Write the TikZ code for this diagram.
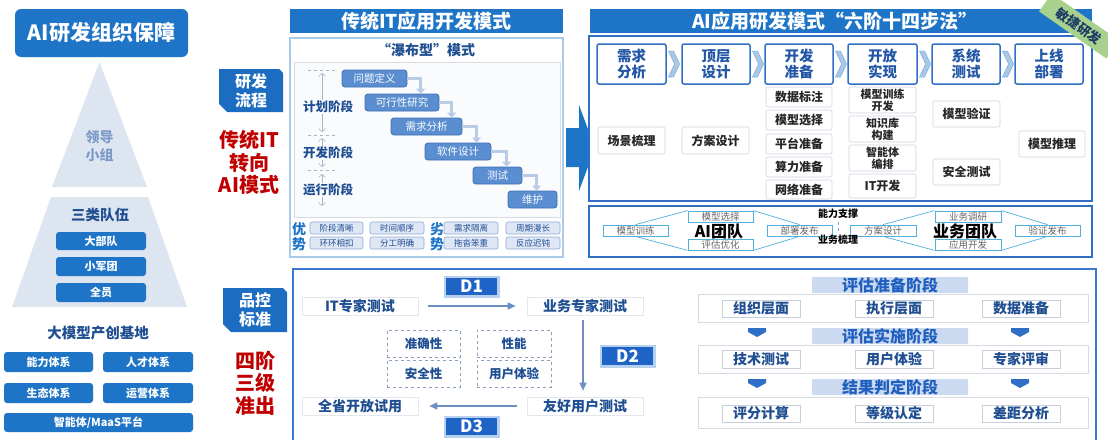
\documentclass[tikz,border=0pt]{standalone}
\usepackage{fontspec}
\setmainfont{Noto Sans CJK SC}
\usetikzlibrary{arrows.meta,calc}
\definecolor{mblue}{HTML}{1E74C6}
\definecolor{navy}{HTML}{1F4E91}
\definecolor{dred}{HTML}{C00000}
\definecolor{pale}{HTML}{DDE5F0}
\definecolor{pltext}{HTML}{7C9BC6}
\definecolor{tagblue}{HTML}{1C6CC2}
\definecolor{lblue}{HTML}{A9CBE8}
\definecolor{lgray}{HTML}{D6DBE2}
\definecolor{innerbg}{HTML}{FAFBFD}
\definecolor{wfblue}{HTML}{5A8ED0}
\definecolor{wfedge}{HTML}{3E6EB4}
\definecolor{wfarrow}{HTML}{B9CCE6}
\definecolor{stgray}{HTML}{A9B4C6}
\definecolor{smfill}{HTML}{DFE7F5}
\definecolor{smedge}{HTML}{8FA9D6}
\definecolor{pbord}{HTML}{2F6FC4}
\definecolor{phtext}{HTML}{2256A6}
\definecolor{subedge}{HTML}{CDD4DE}
\definecolor{chevfill}{HTML}{A8C8E8}
\definecolor{chevedge}{HTML}{7FA8D8}
\definecolor{teal}{HTML}{4FB0DE}
\definecolor{tagg}{HTML}{A8D18D}
\definecolor{tagtext}{HTML}{1C3A66}
\definecolor{bpbord}{HTML}{3A78D0}
\definecolor{qedge}{HTML}{E4E7EC}
\definecolor{dblue}{HTML}{1E63C6}
\definecolor{dglow}{HTML}{B8D0F0}
\definecolor{qarrow}{HTML}{6D8FC4}
\definecolor{dashc}{HTML}{8AA0BC}
\definecolor{hdrfill}{HTML}{CBDAF0}
\definecolor{hdrtext}{HTML}{1F5FBF}
\definecolor{itemedge}{HTML}{C9CFD8}
\definecolor{darrc}{HTML}{2F6FC8}
\newcommand\myfs[2]{\fontsize{#1}{#2}\selectfont}
\newcommand\mybox[7]{\node[#6,inner sep=0pt,minimum width={(#4-#2)*1pt},minimum height={(#5-#3)*1pt}] (#1) at ({(#2+#4)/2},{(#3+#5)/2}) {#7};}
\newcommand\mychev[1]{\filldraw[chev] (#1-5,51) -- (#1,51) -- (#1+6,64) -- (#1,77) -- (#1-5,77) -- (#1+1,64) -- cycle;}
\newcommand\mydarr[2]{\fill[darr] (#1-9,#2) -- (#1+9,#2) -- (#1+9,#2+4) -- (#1,#2+9) -- (#1-9,#2+4) -- cycle;}
\begin{document}
\begin{tikzpicture}[x=1pt,y=-1pt,
 titlebox/.style={fill=mblue,rounded corners=6pt,text=white,font=\bfseries\myfs{21}{24}},
 bluebox/.style={fill=mblue,rounded corners=3pt,text=white,font=\bfseries\myfs{11}{13}},
 hdrbar/.style={fill=mblue,text=white,font=\bfseries\myfs{19}{22}},
 wf/.style={fill=wfblue,draw=wfedge,line width=0.8pt,rounded corners=3pt,text=white,font=\myfs{10.5}{12}},
 wfarr/.style={draw=wfarrow,line width=3.5pt,-{Triangle[length=5pt,width=9pt]}},
 stg/.style={fill=innerbg,text=navy,font=\bfseries\myfs{12.5}{14},inner sep=1pt},
 stgarr/.style={draw=stgray,line width=0.6pt,{Straight Barb[length=3pt,width=7pt]}-{Straight Barb[length=3pt,width=7pt]}},
 dashline/.style={draw=stgray,dashed,line width=0.6pt},
 pro/.style={fill=smfill,draw=smedge,line width=0.6pt,rounded corners=2pt,text=navy,font=\myfs{8.5}{10}},
 phase/.style={draw=pbord,line width=1.5pt,fill=white,rounded corners=2pt,text=phtext,font=\bfseries\myfs{14.5}{16},align=center},
 sub/.style={draw=subedge,line width=0.6pt,fill=white,rounded corners=2pt,text=black!85,font=\bfseries\myfs{12}{14},align=center},
 subtwo/.style={sub,font=\bfseries\myfs{11}{12}},
 chev/.style={fill=chevfill,draw=chevedge,line width=0.5pt},
 team/.style={draw=teal,line width=0.8pt,fill=white,text=black!60,font=\myfs{9.5}{11}},
 lens/.style={draw=teal,line width=0.7pt},
 teamname/.style={text=black,font=\bfseries\myfs{16}{18}},
 smalllab/.style={text=black,font=\bfseries\myfs{10}{12}},
 qbox/.style={draw=qedge,line width=0.6pt,fill=white,text=navy,font=\bfseries\myfs{14}{16}},
 dtag/.style={fill=dblue,text=white,font=\bfseries\myfs{17}{19},preaction={draw=dglow,line width=5pt}},
 qarr/.style={draw=qarrow,line width=1.3pt,-{Triangle[length=8pt,width=7pt]}},
 dbox/.style={draw=dashc,dashed,line width=0.8pt,text=navy,font=\bfseries\myfs{12.5}{14}},
 band/.style={fill=hdrfill,rounded corners=1pt,text=hdrtext,font=\bfseries\myfs{16}{18}},
 rowbox/.style={draw=lgray,line width=0.6pt,fill=white},
 item/.style={draw=itemedge,line width=0.6pt,fill=white,text=navy,font=\bfseries\myfs{14}{16}},
 darr/.style={fill=darrc},
 redtxt/.style={text=dred,font=\bfseries\myfs{20}{22.5},align=center},
 tagtxt/.style={text=white,font=\bfseries\myfs{16}{19},align=center}
]
\useasboundingbox (0,0) rectangle (1108,439);
\fill[white] (0,0) rectangle (1108,439);

% ---------- left column ----------
\mybox{title}{15}{9}{188}{57}{titlebox}{AI研发组织保障}
\fill[pale] (99.5,62) -- (147,187) -- (52,187) -- cycle;
\node[font=\bfseries\myfs{14}{18},text=pltext,align=center] (ldr) at (99.5,146) {领导\\小组};
\fill[pale] (51,197) -- (148,197) -- (187,307) -- (12,307) -- cycle;
\node[font=\bfseries\myfs{14.5}{16},text=navy] (three) at (100,215) {三类队伍};
\mybox{dbd}{56}{232}{146}{250}{bluebox}{大部队}
\mybox{xjt}{56}{257}{146}{276}{bluebox}{小军团}
\mybox{qy}{56}{283}{146}{302}{bluebox}{全员}
\node[font=\bfseries\myfs{14.5}{16},text=navy] (base) at (98,333) {大模型产创基地};
\mybox{nl}{4}{352}{93}{372}{bluebox}{能力体系}
\mybox{rc}{103}{352}{193}{372}{bluebox}{人才体系}
\mybox{st}{4}{383}{93}{403}{bluebox}{生态体系}
\mybox{yy}{103}{383}{193}{403}{bluebox}{运营体系}
\mybox{maas}{4}{413}{193}{432}{bluebox}{智能体/MaaS平台}

% ---------- tags ----------
\fill[tagblue] (219,69) -- (279,69) -- (283,73) -- (283,112) -- (227,112) -- (219,104) -- cycle;
\node[tagtxt] (tag1) at (251,90.5) {研发\\流程};
\node[redtxt] (red1) at (249,162.5) {传统IT\\转向\\AI模式};
\fill[tagblue] (223,288) -- (283,288) -- (287,292) -- (287,332) -- (231,332) -- (223,324) -- cycle;
\node[tagtxt] (tag2) at (255,310) {品控\\标准};
\node[redtxt] (red2) at (255,383) {四阶\\三级\\准出};

% ---------- traditional panel ----------
\mybox{thdr}{290}{9}{563}{33}{hdrbar}{传统IT应用开发模式}
\draw[draw=lblue,line width=1.2pt,fill=white] (290,38) rectangle (563,257);
\node[text=navy,font=\bfseries\myfs{14}{16}] (wft) at (426,50) {“瀑布型”模式};
\draw[lgray,fill=innerbg] (294,62) rectangle (560,217);
\draw[dashline] (308,70) -- (335,70);
\draw[dashline] (308,135) -- (335,135);
\draw[dashline] (308,170) -- (335,170);
\draw[stgarr] (322,73) -- (322,132);
\draw[stgarr] (322,138) -- (322,167);
\draw[stgarr] (322,174) -- (322,206);
\node[stg] (s1) at (328,107) {计划阶段};
\node[stg] (s2) at (328,153) {开发阶段};
\node[stg] (s3) at (328,190) {运行阶段};
\mybox{w1}{342}{70}{407}{87}{wf}{问题定义}
\mybox{w2}{365}{94}{439}{111}{wf}{可行性研究}
\mybox{w3}{391}{118}{462}{135}{wf}{需求分析}
\mybox{w4}{425}{143}{491}{160}{wf}{软件设计}
\mybox{w5}{473}{167}{522}{184}{wf}{测试}
\mybox{w6}{508}{191}{557}{208}{wf}{维护}
\draw[wfarr] (w1.east) -| ([xshift=56pt]w2.north west);
\draw[wfarr] (w2.east) -| ([xshift=61pt]w3.north west);
\draw[wfarr] (w3.east) -| ([xshift=52pt]w4.north west);
\draw[wfarr] (w4.east) -| ([xshift=34pt]w5.north west);
\draw[wfarr] (w5.east) -| ([xshift=29pt]w6.north west);
\node[text=mblue,font=\bfseries\myfs{14}{16}] (you1) at (299,229) {优};
\node[text=mblue,font=\bfseries\myfs{14}{16}] (you2) at (299,244) {势};
\node[text=mblue,font=\bfseries\myfs{14}{16}] (lie1) at (437,229) {劣};
\node[text=mblue,font=\bfseries\myfs{14}{16}] (lie2) at (437,244) {势};
\mybox{a1}{310}{222}{363}{234}{pro}{阶段清晰}
\mybox{a2}{370}{222}{424}{234}{pro}{时间顺序}
\mybox{a3}{444}{222}{498}{234}{pro}{需求隔离}
\mybox{a4}{506}{222}{560}{234}{pro}{周期漫长}
\mybox{a5}{310}{237}{363}{249}{pro}{环环相扣}
\mybox{a6}{370}{237}{424}{249}{pro}{分工明确}
\mybox{a7}{444}{237}{498}{249}{pro}{拖沓笨重}
\mybox{a8}{506}{237}{560}{249}{pro}{反应迟钝}

% ---------- big arrow ----------
\fill[mblue] (566,128) -- (579,128) -- (579,105) -- (595,148) -- (579,191) -- (579,167) -- (566,167) -- cycle;

% ---------- AI panel ----------
\fill[mblue] (590,9) rectangle (1092,33);
\node[text=white,font=\bfseries\myfs{19}{22}] (ahdr) at (835,21) {AI应用研发模式“六阶十四步法”};
\draw[pbord,line width=1.3pt,fill=white] (589,36) rectangle (1092,201);
\mybox{p1}{597}{44}{666}{84}{phase}{需求\\分析}
\mybox{p2}{682}{44}{750}{84}{phase}{顶层\\设计}
\mybox{p3}{765}{44}{833}{84}{phase}{开发\\准备}
\mybox{p4}{848}{44}{917}{84}{phase}{开放\\实现}
\mybox{p5}{932}{44}{1000}{84}{phase}{系统\\测试}
\mybox{p6}{1015}{44}{1083}{84}{phase}{上线\\部署}
\mychev{673.5}
\mychev{757.5}
\mychev{840.5}
\mychev{924.5}
\mychev{1007.5}
\mybox{c1}{598}{127}{665}{154}{sub}{场景梳理}
\mybox{c2}{682}{127}{749}{154}{sub}{方案设计}
\mybox{c3}{766}{87}{832}{107}{sub}{数据标注}
\mybox{c4}{766}{110}{832}{130}{sub}{模型选择}
\mybox{c5}{766}{134}{832}{154}{sub}{平台准备}
\mybox{c6}{766}{157}{832}{177}{sub}{算力准备}
\mybox{c7}{766}{180}{832}{199}{sub}{网络准备}
\mybox{c8}{849}{87}{916}{113}{subtwo}{模型训练\\开发}
\mybox{c9}{849}{116}{916}{142}{subtwo}{知识库\\构建}
\mybox{c10}{849}{145}{916}{171}{subtwo}{智能体\\编排}
\mybox{c11}{849}{174}{916}{198}{sub}{IT开发}
\mybox{c12}{933}{101}{1000}{127}{sub}{模型验证}
\mybox{c13}{933}{159}{1000}{185}{sub}{安全测试}
\mybox{c14}{1019}{131}{1085}{157}{sub}{模型推理}

% ---------- team bar ----------
\draw[pbord,line width=1.3pt,fill=white] (589,206) rectangle (1092,257);
\mybox{t1}{603}{225}{668}{236}{team}{模型训练}
\mybox{t2}{688}{211}{753}{222}{team}{模型选择}
\mybox{t3}{688}{239}{753}{250}{team}{评估优化}
\mybox{t4}{767}{225}{832}{236}{team}{部署发布}
\draw[lens] (t1.north) -- (t2.north west);
\draw[lens] (t2.north east) -- (t4.north);
\draw[lens] (t1.south) -- (t3.south west);
\draw[lens] (t3.south east) -- (t4.south);
\node[teamname] (aiteam) at (719,231) {AI团队};
\mybox{u1}{850}{225}{916}{236}{team}{方案设计}
\mybox{u2}{935}{211}{1001}{222}{team}{业务调研}
\mybox{u3}{935}{239}{1001}{250}{team}{应用开发}
\mybox{u4}{1015}{225}{1080}{236}{team}{验证发布}
\draw[lens] (u1.north) -- (u2.north west);
\draw[lens] (u2.north east) -- (u4.north);
\draw[lens] (u1.south) -- (u3.south west);
\draw[lens] (u3.south east) -- (u4.south);
\node[teamname] (bizteam) at (965,231) {业务团队};
\node[smalllab] (nlzc) at (838,214) {能力支撑};
\node[smalllab] (ywsl) at (838,240) {业务梳理};
\draw[teal,dashed,line width=0.7pt] (nlzc.south) -- (ywsl.north);

% ---------- bottom panel ----------
\draw[bpbord,line width=1.5pt] (293,269) rectangle (1096,446);
\mybox{itx}{302}{297}{418}{315}{qbox}{IT专家测试}
\mybox{bzx}{527}{297}{643}{315}{qbox}{业务专家测试}
\mybox{yh}{527}{397}{643}{415}{qbox}{友好用户测试}
\mybox{qs}{302}{397}{418}{415}{qbox}{全省开放试用}
\mybox{D1}{446}{278}{497}{295}{dtag}{D1}
\mybox{D2}{602}{347}{653}{365}{dtag}{D2}
\mybox{D3}{446}{418}{497}{435}{dtag}{D3}
\draw[qarr,shorten <=10pt,shorten >=11pt] (itx.east) -- (bzx.west);
\draw[qarr,shorten <=5pt,shorten >=6pt] ([xshift=-2pt]bzx.south) -- ([xshift=-2pt]yh.north);
\draw[qarr,shorten <=10pt,shorten >=11pt] (yh.west) -- (qs.east);
\mybox{q1}{387}{330}{460}{357}{dbox}{准确性}
\mybox{q2}{477}{330}{551}{357}{dbox}{性能}
\mybox{q3}{387}{360}{460}{387}{dbox}{安全性}
\mybox{q4}{477}{360}{551}{387}{dbox}{用户体验}

\draw[rowbox] (698,294) rectangle (1088,322);
\draw[rowbox] (698,345) rectangle (1088,373);
\draw[rowbox] (698,397) rectangle (1088,428);
\mybox{h1}{812}{277}{968}{293}{band}{评估准备阶段}
\mybox{h2}{812}{328}{968}{344}{band}{评估实施阶段}
\mybox{h3}{812}{379}{968}{395}{band}{结果判定阶段}
\mybox{e1}{722}{300}{800}{317}{item}{组织层面}
\mybox{e2}{855}{300}{933}{317}{item}{执行层面}
\mybox{e3}{982}{300}{1060}{317}{item}{数据准备}
\mybox{e4}{722}{350}{800}{368}{item}{技术测试}
\mybox{e5}{855}{350}{933}{368}{item}{用户体验}
\mybox{e6}{982}{350}{1060}{368}{item}{专家评审}
\mybox{e7}{722}{405}{800}{422}{item}{评分计算}
\mybox{e8}{855}{405}{933}{422}{item}{等级认定}
\mybox{e9}{982}{405}{1060}{422}{item}{差距分析}
\mydarr{757}{328}
\mydarr{1020}{328}
\mydarr{757}{379}
\mydarr{1020}{379}

% ---------- agile tag ----------
\node[fill=tagg,rotate=-35,minimum width=82pt,minimum height=22pt,inner sep=0pt,text=tagtext,font=\bfseries\myfs{13}{14}] (agile) at (1079,26) {敏捷研发};
\end{tikzpicture}
\end{document}
